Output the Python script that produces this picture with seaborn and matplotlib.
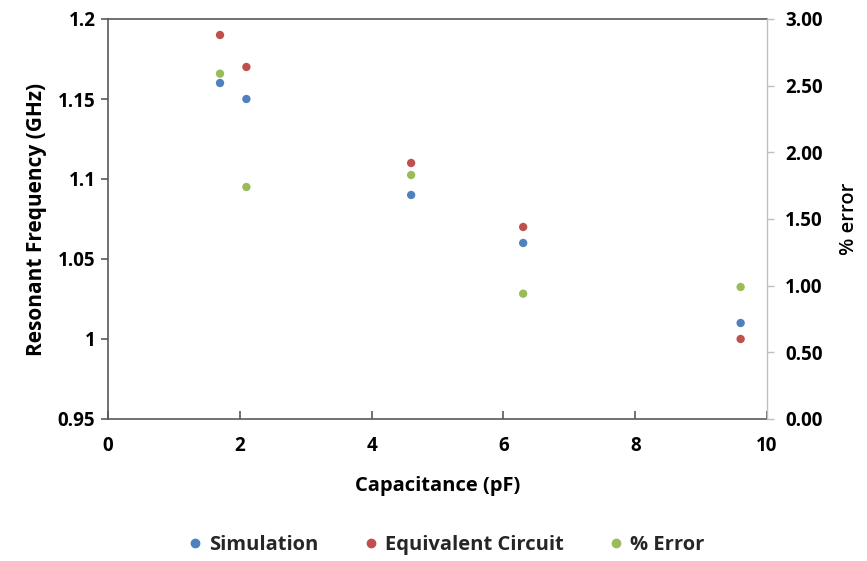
import matplotlib
matplotlib.use("Agg")
import matplotlib.pyplot as plt
import seaborn as sns
import pandas as pd
from matplotlib.lines import Line2D

capacitance = [1.7, 2.1, 4.6, 6.3, 9.6]
simulation = [1.16, 1.15, 1.09, 1.06, 1.01]
equivalent = [1.19, 1.17, 1.11, 1.07, 1.00]
pct_error = [2.59, 1.74, 1.83, 0.94, 0.99]

x_ticks = [0, 2, 4, 6, 8, 10]
y_ticks = [0.95, 1.0, 1.05, 1.1, 1.15, 1.2]
y_tick_labels = ["0.95", "1", "1.05", "1.1", "1.15", "1.2"]
y2_ticks = [0, 0.5, 1.0, 1.5, 2.0, 2.5, 3.0]

c_sim = "#4F81BD"
c_eq = "#C0504D"
c_err = "#9BBB59"

sns.set_theme(style="white")
plt.rcParams['font.family'] = ['Open Sans', 'DejaVu Sans']

df = pd.DataFrame({"cap": capacitance, "sim": simulation, "eq": equivalent, "err": pct_error})

fig = plt.figure(figsize=(8.67, 5.61), dpi=100)
ax = fig.add_axes([108/867, 1 - 419/561, (767-108)/867, (419-19)/561])
ax2 = ax.twinx()

ms = 36
sns.scatterplot(data=df, x="cap", y="sim", ax=ax, color=c_sim, s=ms, edgecolor="none", zorder=3)
sns.scatterplot(data=df, x="cap", y="eq", ax=ax, color=c_eq, s=ms, edgecolor="none", zorder=3)
sns.scatterplot(data=df, x="cap", y="err", ax=ax2, color=c_err, s=ms, edgecolor="none", zorder=3)

ax.set_xlim(0, 10)
ax.set_ylim(0.95, 1.2)
ax2.set_ylim(0, 3)
ax.set_xticks(x_ticks)
ax.set_xticklabels([str(t) for t in x_ticks])
ax.set_yticks(y_ticks)
ax.set_yticklabels(y_tick_labels)
ax2.set_yticks(y2_ticks)
ax2.set_yticklabels([f"{t:.2f}" for t in y2_ticks])

dark = "#595959"
light = "#BFBFBF"
for s in ["left", "bottom", "top"]:
    ax.spines[s].set_color(dark)
    ax.spines[s].set_linewidth(1.2)
ax.spines["right"].set_visible(False)
for s in ["left", "bottom", "top"]:
    ax2.spines[s].set_visible(False)
ax2.spines["right"].set_color(light)
ax2.spines["right"].set_linewidth(1.0)

fs = 13.5
ax.tick_params(axis="x", direction="in", length=6, width=1.2, color=dark, pad=12,
               labelsize=fs, bottom=True)
ax.tick_params(axis="y", direction="out", length=5, width=1.2, color=dark, pad=4,
               labelsize=fs, left=True)
ax2.tick_params(axis="y", direction="out", length=5, width=1.0, color=light, pad=8,
                labelsize=fs, right=True)
for lab in ax.get_xticklabels() + ax.get_yticklabels() + ax2.get_yticklabels():
    lab.set_fontweight("bold")
    lab.set_color("black")

ax.set_xlabel("Capacitance (pF)", fontsize=14.5, fontweight="bold", labelpad=15, color="black")
ax.set_ylabel("Resonant Frequency (GHz)", fontsize=15, fontweight="bold", labelpad=8, color="black")
ax2.set_ylabel("% error", fontsize=14.5, fontweight="semibold", labelpad=12, color="black")

handles = [
    Line2D([], [], marker="o", linestyle="none", color=c_sim, markersize=6, label="Simulation"),
    Line2D([], [], marker="o", linestyle="none", color=c_eq, markersize=6, label="Equivalent Circuit"),
    Line2D([], [], marker="o", linestyle="none", color=c_err, markersize=6, label="% Error"),
]
leg = fig.legend(handles=handles, loc="center", bbox_to_anchor=(0.512, 1 - 545/561), ncol=3,
                 frameon=False, prop={"size": 14.5, "weight": "bold"},
                 handletextpad=0.1, columnspacing=2.0, handlelength=1.2)

fig.savefig("out.png", dpi=100)
